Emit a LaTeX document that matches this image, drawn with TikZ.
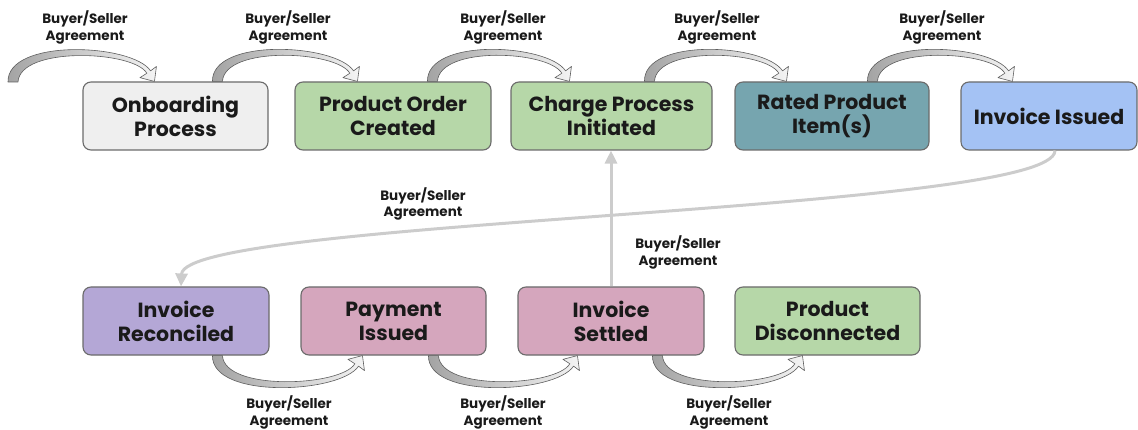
\documentclass[tikz,border=0pt]{standalone}
\usepackage{fontspec}
\setmainfont{Poppins}
\usetikzlibrary{arrows.meta,calc}

\definecolor{edgegray}{HTML}{6B6B6B}
\definecolor{textdark}{HTML}{1A1A1A}
\definecolor{flowgray}{HTML}{CCCCCC}
\definecolor{arcedge}{HTML}{5E5E5E}
\definecolor{arcdark}{HTML}{A3A3A3}
\definecolor{arclight}{HTML}{F4F4F4}
\definecolor{onbfill}{HTML}{EFEFEF}
\definecolor{greenfill}{HTML}{B6D7A8}
\definecolor{tealfill}{HTML}{76A5AF}
\definecolor{bluefill}{HTML}{A4C2F4}
\definecolor{purplefill}{HTML}{B4A7D6}
\definecolor{pinkfill}{HTML}{D5A6BD}

\tikzset{
  stage/.style={draw=edgegray, line width=1.1pt, rounded corners=8pt,
    minimum height=68pt, inner sep=0pt, align=center, text=textdark,
    font=\fontsize{20.5}{24}\selectfont\bfseries},
  tag/.style={align=center, inner sep=0pt, text=textdark,
    font=\fontsize{13.5}{16.5}\selectfont\bfseries},
  flow/.style={draw=flowgray, line width=3pt,
    -{Triangle[length=13pt,width=12pt]}},
  blockarrow/.style={draw=arcedge, line width=0.6pt, line join=round,
    left color=arcdark, right color=arclight},
}

% Curved block arrow: #1 base point, #2 tip point, #3 = 1 (arc above) or -1 (arc below)
\newcommand\stagearc[3]{%
  \path[blockarrow] let \p1=(#1), \p2=(#2) in
    (\x1,\y1) .. controls ({\x1-1pt},{\y1+#3*44pt}) and ({\x2-22pt},{\y2+#3*38pt})
      .. ({\x2-3.9pt},{\y2+#3*10.6pt})
    -- ({\x2+2pt},{\y2+#3*15pt}) -- (\x2,\y2)
    -- ({\x2-14.5pt},{\y2+#3*3.8pt}) -- ({\x2-7.6pt},{\y2+#3*8.2pt})
    .. controls ({\x2-21pt},{\y2+#3*31pt}) and ({\x1+12pt},{\y1+#3*36pt})
      .. ({\x1+10pt},\y1) -- cycle;}

\begin{document}
\begin{tikzpicture}[x=1pt, y=-1pt]
\useasboundingbox (0,0) rectangle (1138,430);

% top row
\node[stage, fill=onbfill,   minimum width=185pt] (onb) at (175.5,116) {Onboarding\\Process};
\node[stage, fill=greenfill, minimum width=196pt] (poc) at (393,116)   {Product Order\\Created};
\node[stage, fill=greenfill, minimum width=201pt] (cpi) at (611.5,116) {Charge Process\\Initiated};
\node[stage, fill=tealfill,  minimum width=194pt] (rpi) at (832,116)   {Rated Product\\Item(s)};
\node[stage, fill=bluefill,  minimum width=176pt] (iis) at (1049,116)  {Invoice Issued};

% bottom row
\node[stage, fill=purplefill, minimum width=186pt] (irc) at (176,321)   {Invoice\\Reconciled};
\node[stage, fill=pinkfill,   minimum width=185pt] (pay) at (393.5,321) {Payment\\Issued};
\node[stage, fill=pinkfill,   minimum width=186pt] (ist) at (611,321)   {Invoice\\Settled};
\node[stage, fill=greenfill,  minimum width=185pt] (pdc) at (827.5,321) {Product\\Disconnected};

% curved arrows over the top row
\coordinate (a0) at (8,82);
\stagearc{a0}{$(onb.north west)+(72,0)$}{1}
\stagearc{$(onb.north west)+(130,0)$}{$(poc.north west)+(63,0)$}{1}
\stagearc{$(poc.north west)+(133,0)$}{$(cpi.north west)+(59,0)$}{1}
\stagearc{$(cpi.north west)+(134,0)$}{$(rpi.north west)+(52,0)$}{1}
\stagearc{$(rpi.north west)+(133,0)$}{$(iis.north west)+(52,0)$}{1}

% curved arrows under the bottom row
\stagearc{$(irc.south west)+(130,0)$}{$(pay.south west)+(62,0)$}{-1}
\stagearc{$(pay.south west)+(128,0)$}{$(ist.south west)+(60,0)$}{-1}
\stagearc{$(ist.south west)+(135,0)$}{$(pdc.south west)+(68,0)$}{-1}

% long connectors
\draw[flow] ([xshift=6]iis.south) .. controls +(0,62) and +(3,-68) .. ([xshift=5]irc.north);
\draw[flow] (ist.north) -- (ist.north |- cpi.south);

% agreement labels
\node[tag] (t1) at (85,27.5)  {Buyer/Seller\\Agreement};
\node[tag] (t2) at (288,27.5) {Buyer/Seller\\Agreement};
\node[tag] (t3) at (503,27.5) {Buyer/Seller\\Agreement};
\node[tag] (t4) at (717,27.5) {Buyer/Seller\\Agreement};
\node[tag] (t5) at (942,27.5) {Buyer/Seller\\Agreement};
\node[tag] (m1) at (423,204)  {Buyer/Seller\\Agreement};
\node[tag] (m2) at (678,252.5){Buyer/Seller\\Agreement};
\node[tag] (b1) at (289,412.5)  {Buyer/Seller\\Agreement};
\node[tag] (b2) at (503,412.5)  {Buyer/Seller\\Agreement};
\node[tag] (b3) at (729,412.5)  {Buyer/Seller\\Agreement};
\end{tikzpicture}
\end{document}
